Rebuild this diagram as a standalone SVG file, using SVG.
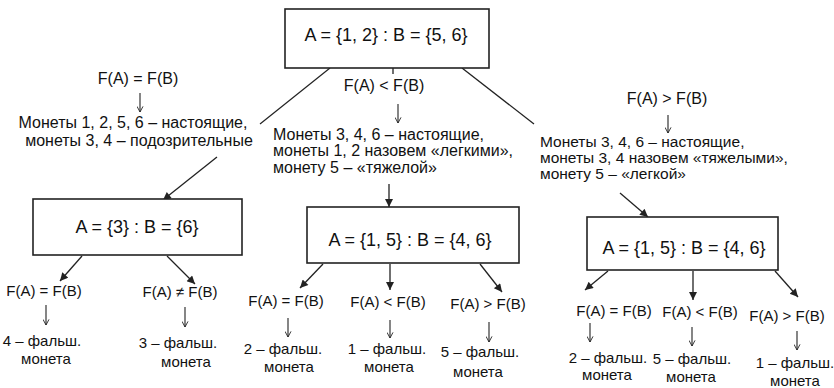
<svg xmlns="http://www.w3.org/2000/svg" width="834" height="388" viewBox="0 0 834 388">
<style>
.box{fill:#fff;stroke:#222;stroke-width:1.6}
text{font-family:"Liberation Sans",Arial,sans-serif;fill:#111}
.big{font-size:18px;text-anchor:middle}
.mid{font-size:16px}
.mr{font-size:15.5px}
.mc{font-size:16px;text-anchor:middle}
.sm{font-size:15px;text-anchor:middle}
.c{stroke:#222;stroke-width:1.3;fill:none}
.a{marker-end:url(#ah)}
.d{marker-end:url(#dn);stroke-width:1.1}
</style>
<defs>
<marker id="ah" viewBox="0 0 10 10" refX="10" refY="5" markerWidth="11" markerHeight="8" markerUnits="userSpaceOnUse" orient="auto"><path d="M0,0 L10,5 L0,10 z" fill="#222"/></marker>
<marker id="dn" viewBox="0 0 8 8" refX="7.5" refY="4" markerWidth="6" markerHeight="7" markerUnits="userSpaceOnUse" orient="auto"><path d="M0,0 L7.5,4 L0,8" fill="none" stroke="#222" stroke-width="1.2"/></marker>
</defs>
<rect width="834" height="388" fill="#fff"/>

<g id="connectors">
<line class="c" x1="330" y1="68" x2="260" y2="124"/>
<line class="c a" x1="217" y1="157" x2="163" y2="200"/>
<line class="c" x1="462" y1="68" x2="534" y2="124"/>
<line class="c a" x1="620" y1="193" x2="648" y2="217"/>
<line class="c" x1="393" y1="68" x2="393" y2="74"/>
<line class="c d" x1="398" y1="104" x2="398" y2="123"/>
<line class="c d" x1="140" y1="93" x2="140" y2="112"/>
<line class="c d" x1="668" y1="115" x2="668" y2="133"/>
<line class="c a" x1="389" y1="184" x2="389" y2="207"/>

<line class="c a" x1="82" y1="256" x2="60" y2="281"/>
<line class="c a" x1="167" y1="256" x2="195" y2="284"/>
<line class="c d" x1="46" y1="305" x2="46" y2="325"/>
<line class="c d" x1="185" y1="307" x2="185" y2="327"/>

<line class="c a" x1="323" y1="264" x2="300" y2="288"/>
<line class="c a" x1="390" y1="264" x2="390" y2="290"/>
<line class="c a" x1="480" y1="264" x2="502" y2="292"/>
<line class="c d" x1="288" y1="318" x2="288" y2="337"/>
<line class="c d" x1="390" y1="320" x2="390" y2="338"/>
<line class="c d" x1="489" y1="322" x2="489" y2="342"/>

<line class="c a" x1="608" y1="271" x2="585" y2="290"/>
<line class="c a" x1="693" y1="271" x2="693" y2="300"/>
<line class="c a" x1="775" y1="271" x2="798" y2="297"/>
<line class="c d" x1="590" y1="323" x2="590" y2="342"/>
<line class="c d" x1="692" y1="327" x2="692" y2="346"/>
<line class="c d" x1="797" y1="331" x2="797" y2="350"/>
</g>

<g id="box-top">
<rect class="box" x="285" y="9" width="204" height="59"/>
<text class="big" x="386" y="41">A = {1, 2} : B = {5, 6}</text>
</g>
<g id="label-eq-top"><text class="mc" x="138" y="84">F(A) = F(B)</text></g>
<g id="label-lt-top"><text class="mc" x="384" y="91">F(A) &lt; F(B)</text></g>
<g id="label-gt-top"><text class="mc" x="667" y="104">F(A) &gt; F(B)</text></g>

<g id="text-left">
<text class="mc" x="133" y="128">Монеты 1, 2, 5, 6 – настоящие,</text>
<text class="mc" x="139" y="146">монеты 3, 4 – подозрительные</text>
</g>
<g id="text-middle">
<text class="mid" x="273" y="140">Монеты 3, 4, 6 – настоящие,</text>
<text class="mid" x="273" y="156">монеты 1, 2 назовем «легкими»,</text>
<text class="mid" x="273" y="173">монету 5 – «тяжелой»</text>
</g>
<g id="text-right">
<text class="mr" x="540" y="147">Монеты 3, 4, 6 – настоящие,</text>
<text class="mr" x="540" y="163">монеты 3, 4 назовем «тяжелыми»,</text>
<text class="mr" x="540" y="179">монету 5 – «легкой»</text>
</g>

<g id="box-left">
<rect class="box" x="33" y="199" width="209" height="56"/>
<text class="big" x="137" y="233">A = {3} : B = {6}</text>
</g>
<g id="box-middle">
<rect class="box" x="307" y="207" width="212" height="56"/>
<text class="big" x="410" y="246">A = {1, 5} : B = {4, 6}</text>
</g>
<g id="box-right">
<rect class="box" x="587" y="217" width="191" height="53"/>
<text class="big" x="684" y="254">A = {1, 5} : B = {4, 6}</text>
</g>

<g id="left-eq">
<text class="sm" x="44" y="296">F(A) = F(B)</text>
<text class="sm" x="42" y="346">4 – фальш.</text>
<text class="sm" x="46" y="364">монета</text>
</g>
<g id="left-ne">
<text class="sm" x="180" y="297">F(A) ≠ F(B)</text>
<text class="sm" x="178" y="348">3 – фальш.</text>
<text class="sm" x="186" y="367">монета</text>
</g>

<g id="mid-eq">
<text class="sm" x="286" y="306">F(A) = F(B)</text>
<text class="sm" x="283" y="354">2 – фальш.</text>
<text class="sm" x="289" y="372">монета</text>
</g>
<g id="mid-lt">
<text class="sm" x="388" y="307">F(A) &lt; F(B)</text>
<text class="sm" x="387" y="354">1 – фальш.</text>
<text class="sm" x="389" y="372">монета</text>
</g>
<g id="mid-gt">
<text class="sm" x="488" y="309">F(A) &gt; F(B)</text>
<text class="sm" x="480" y="357">5 – фальш.</text>
<text class="sm" x="478" y="377">монета</text>
</g>

<g id="right-eq">
<text class="sm" x="614" y="316">F(A) = F(B)</text>
<text class="sm" x="608" y="363">2 – фальш.</text>
<text class="sm" x="607" y="380">монета</text>
</g>
<g id="right-lt">
<text class="sm" x="700" y="317">F(A) &lt; F(B)</text>
<text class="sm" x="692" y="364">5 – фальш.</text>
<text class="sm" x="691" y="382">монета</text>
</g>
<g id="right-gt">
<text class="sm" x="787" y="321">F(A) &gt; F(B)</text>
<text class="sm" x="795" y="368">1 – фальш.</text>
<text class="sm" x="795" y="386">монета</text>
</g>
</svg>
